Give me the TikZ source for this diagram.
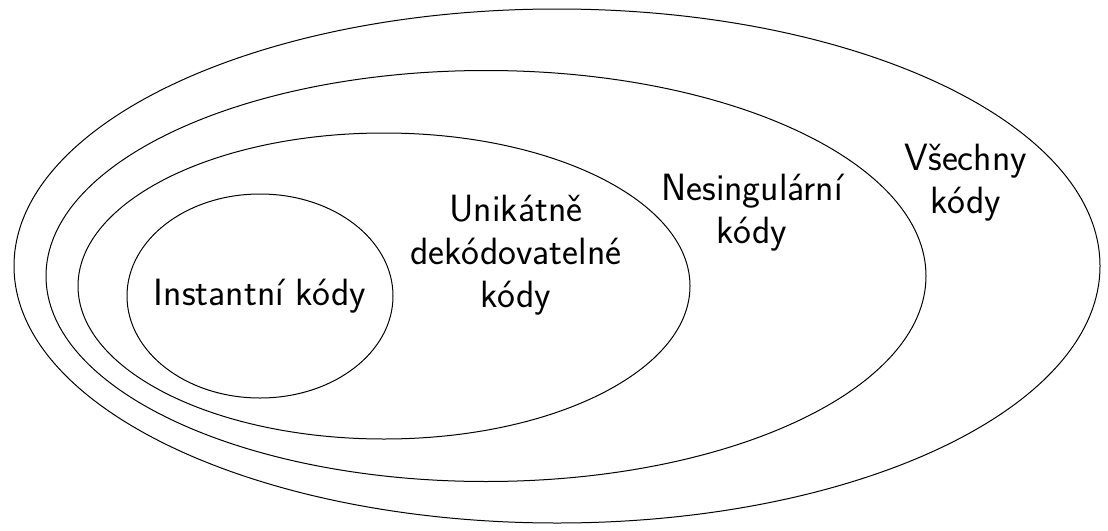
\documentclass[tikz,border=0pt]{standalone}
\usepackage{tikz}
\usetikzlibrary{shapes.geometric}
\tikzset{
  codeset/.style={draw,ellipse,inner sep=0pt,line width=0.5pt},
  codelabel/.style={font=\fontsize{19}{21.5}\selectfont\sffamily,align=center,inner sep=0pt}
}

\begin{document}
\begin{tikzpicture}[x=0.5pt,y=-0.5pt]
  \useasboundingbox (0,0) rectangle (1108,530);
  % nested sets of codes
  \node[codeset,minimum width=543pt,minimum height=257pt] (all) at (557,266) {};
  \node[codeset,minimum width=440pt,minimum height=205.5pt] (nonsing) at (486,276) {};
  \node[codeset,minimum width=306pt,minimum height=153pt] (unique) at (384,286) {};
  \node[codeset,minimum width=133pt,minimum height=102pt] (instant) at (260,296) {};
  % labels
  \node[codelabel] (instantlbl) at (260,296) {Instantní kódy};
  \node[codelabel] (uniquelbl) at (516,255) {Unikátně\\dekódovatelné\\kódy};
  \node[codelabel] (nonsinglbl) at (752,213) {Nesingulární\\kódy};
  \node[codelabel] (alllbl) at (966,183) {Všechny\\kódy};
\end{tikzpicture}
\end{document}
